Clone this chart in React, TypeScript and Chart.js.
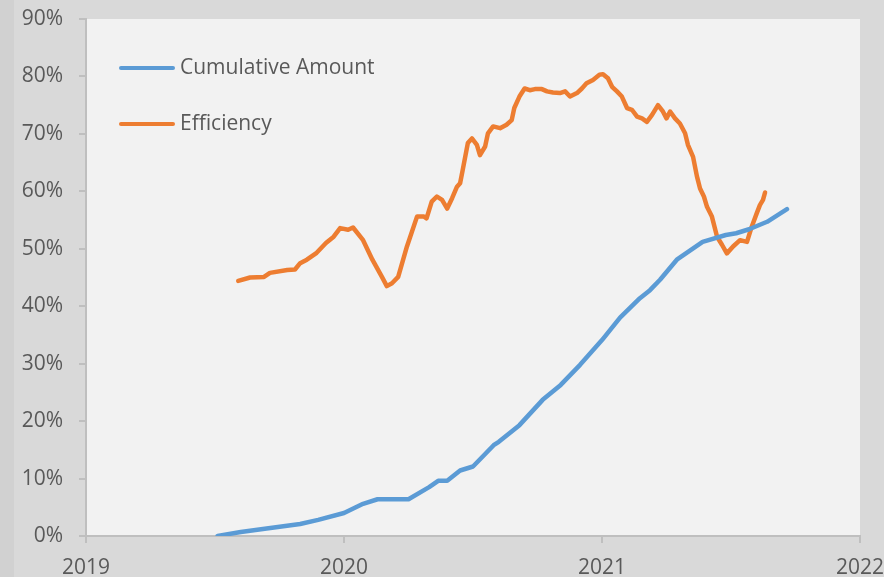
import React, { useEffect, useRef } from "react";
import { Chart, registerables } from "chart.js";

Chart.register(...registerables);

const xTickLabels = ["2019", "2020", "2021", "2022"];
const yTickLabels = ["0%", "10%", "20%", "30%", "40%", "50%", "60%", "70%", "80%", "90%"];
const seriesNames = ["Cumulative Amount", "Efficiency"];

const cumulativeDates = [
  2019.51, 2019.6, 2019.7, 2019.83, 2019.9, 2020.0, 2020.074, 2020.13, 2020.25, 2020.33,
  2020.365, 2020.4, 2020.45, 2020.5, 2020.58, 2020.6, 2020.68, 2020.77, 2020.84, 2020.915,
  2021.0, 2021.07, 2021.147, 2021.186, 2021.225, 2021.29, 2021.39, 2021.48, 2021.52,
  2021.57, 2021.64, 2021.717,
];
const cumulativeValues = [
  0, 0.7, 1.3, 2.1, 2.8, 4.0, 5.6, 6.4, 6.4, 8.5,
  9.6, 9.6, 11.4, 12.1, 15.8, 16.4, 19.3, 23.7, 26.3, 29.8,
  34.1, 38.0, 41.4, 42.8, 44.6, 48.1, 51.2, 52.4, 52.7,
  53.4, 54.7, 56.9,
];

const efficiencyDates = [
  2019.59, 2019.636, 2019.69, 2019.713, 2019.78, 2019.81, 2019.83, 2019.856, 2019.894, 2019.93,
  2019.96, 2019.985, 2020.016, 2020.035, 2020.074, 2020.11, 2020.147, 2020.166, 2020.186, 2020.21,
  2020.244, 2020.283, 2020.31, 2020.32, 2020.34, 2020.36, 2020.38, 2020.4, 2020.419, 2020.438,
  2020.45, 2020.46, 2020.48, 2020.496, 2020.515, 2020.527, 2020.547, 2020.558, 2020.578, 2020.605,
  2020.63, 2020.65, 2020.66, 2020.68, 2020.7, 2020.72, 2020.74, 2020.767, 2020.787, 2020.81,
  2020.837, 2020.857, 2020.876, 2020.903, 2020.922, 2020.94, 2020.965, 2020.99, 2021.004, 2021.023,
  2021.039, 2021.058, 2021.077, 2021.097, 2021.116, 2021.136, 2021.155, 2021.174, 2021.194, 2021.217,
  2021.236, 2021.25, 2021.264, 2021.283, 2021.302, 2021.322, 2021.333, 2021.353, 2021.368, 2021.38,
  2021.395, 2021.407, 2021.426, 2021.446, 2021.465, 2021.484, 2021.508, 2021.535, 2021.562, 2021.58,
  2021.6, 2021.612, 2021.624, 2021.632,
];
const efficiencyValues = [
  44.4, 45.0, 45.1, 45.8, 46.3, 46.4, 47.5, 48.1, 49.3, 51.0,
  52.1, 53.6, 53.3, 53.7, 51.5, 48.1, 45.1, 43.5, 44.0, 45.1,
  50.4, 55.6, 55.6, 55.3, 58.2, 59.1, 58.5, 57.0, 58.8, 60.8,
  61.4, 63.7, 68.4, 69.2, 68.1, 66.3, 67.8, 70.1, 71.3, 71.0,
  71.6, 72.4, 74.5, 76.5, 77.9, 77.6, 77.8, 77.8, 77.4, 77.2,
  77.1, 77.4, 76.5, 77.1, 77.9, 78.8, 79.4, 80.3, 80.4, 79.7,
  78.2, 77.4, 76.5, 74.5, 74.2, 73.0, 72.7, 72.1, 73.3, 75.0,
  73.9, 72.7, 73.9, 72.7, 71.8, 70.1, 68.1, 66.0, 62.6, 60.5,
  59.1, 57.3, 55.6, 52.1, 50.7, 49.2, 50.4, 51.5, 51.2, 53.8,
  56.2, 57.6, 58.5, 59.8,
];

const seriesColors = ["#5b9bd5", "#ed7d31"];
const FONT = "'Open Sans', 'Liberation Sans', sans-serif";
const TEXT = "#595959";
const AXIS = "#bfbfbf";

const bgPlugin = {
  id: "bgPlugin",
  beforeDraw(chart: any) {
    const { ctx, width, height, chartArea } = chart;
    ctx.save();
    ctx.fillStyle = "#d9d9d9";
    ctx.fillRect(0, 0, width, height);
    ctx.fillStyle = "#d1d1d1";
    ctx.fillRect(0, 0, 14, height);
    ctx.fillStyle = "#f2f2f2";
    ctx.fillRect(chartArea.left, chartArea.top, chartArea.right - chartArea.left, chartArea.bottom - chartArea.top);
    ctx.restore();
  },
};

const legendPlugin = {
  id: "legendPlugin",
  afterDraw(chart: any) {
    const { ctx } = chart;
    ctx.save();
    chart.data.datasets.forEach((ds: any, i: number) => {
      const y = 68 + i * 56;
      ctx.strokeStyle = ds.borderColor;
      ctx.lineWidth = 4;
      ctx.lineCap = "round";
      ctx.beginPath();
      ctx.moveTo(121, y);
      ctx.lineTo(173, y);
      ctx.stroke();
      ctx.fillStyle = TEXT;
      ctx.font = `21px ${FONT}`;
      ctx.textBaseline = "middle";
      ctx.textAlign = "left";
      ctx.fillText(ds.label, 180, y);
    });
    ctx.restore();
  },
};

export default function App() {
  const ref = useRef<HTMLCanvasElement | null>(null);
  useEffect(() => {
    document.body.style.margin = "0";
    const canvas = ref.current!;
    const chart = new Chart(canvas, {
      type: "line",
      data: {
        datasets: [
          {
            label: seriesNames[0],
            data: cumulativeDates.map((x, i) => ({ x, y: cumulativeValues[i] })),
            borderColor: seriesColors[0],
            borderWidth: 4.5,
            borderJoinStyle: "round",
            borderCapStyle: "round",
            pointRadius: 0,
            tension: 0,
          },
          {
            label: seriesNames[1],
            data: efficiencyDates.map((x, i) => ({ x, y: efficiencyValues[i] })),
            borderColor: seriesColors[1],
            borderWidth: 4.5,
            borderJoinStyle: "round",
            borderCapStyle: "round",
            pointRadius: 0,
            tension: 0,
          },
        ],
      },
      options: {
        animation: false,
        responsive: false,
        maintainAspectRatio: false,
        layout: { padding: { left: 0, top: 19, right: 24, bottom: 0 } },
        plugins: { legend: { display: false }, tooltip: { enabled: false } },
        scales: {
          x: {
            type: "linear",
            min: 2019,
            max: 2022,
            afterFit(scale: any) {
              scale.height = 41;
              scale.paddingLeft = 0;
              scale.paddingRight = 0;
            },
            afterBuildTicks(scale: any) {
              scale.ticks = xTickLabels.map((t) => ({ value: Number(t) }));
            },
            ticks: {
              autoSkip: false,
              maxRotation: 0,
              padding: 12,
              color: TEXT,
              font: { family: FONT, size: 21 },
              callback: (v: any) => String(v),
            },
            grid: { drawOnChartArea: false, drawTicks: true, tickLength: 7, color: AXIS, lineWidth: 2 },
            border: { color: AXIS, width: 2 },
          },
          y: {
            min: 0,
            max: 90,
            afterFit(scale: any) {
              scale.width = 86;
              scale.paddingTop = 0;
              scale.paddingBottom = 0;
            },
            afterBuildTicks(scale: any) {
              scale.ticks = yTickLabels.map((t) => ({ value: parseFloat(t) }));
            },
            ticks: {
              padding: 16,
              color: TEXT,
              font: { family: FONT, size: 21 },
              callback: (v: any) => `${v}%`,
            },
            grid: { drawOnChartArea: false, drawTicks: true, tickLength: 7, color: AXIS, lineWidth: 2 },
            border: { color: AXIS, width: 2 },
          },
        },
      },
      plugins: [bgPlugin, legendPlugin],
    });
    return () => chart.destroy();
  }, []);
  return (
    <div style={{ width: 884, height: 577 }}>
      <canvas ref={ref} width={884} height={577} style={{ display: "block", width: 884, height: 577 }} />
    </div>
  );
}
